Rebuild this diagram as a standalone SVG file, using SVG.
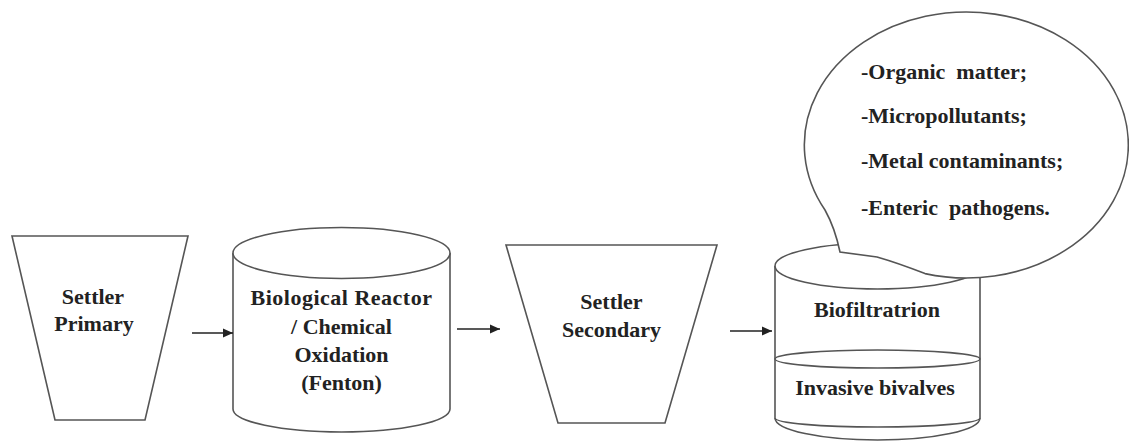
<svg xmlns="http://www.w3.org/2000/svg" width="1129" height="441" viewBox="0 0 1129 441">
<style>
.s{fill:#fff;stroke:#555;stroke-width:1.6}
.l{fill:none;stroke:#555;stroke-width:1.6}
.t{font-family:'Liberation Serif','DejaVu Serif',serif;font-weight:bold;font-size:22px;fill:#222;text-anchor:middle}
.b{font-family:'Liberation Serif','DejaVu Serif',serif;font-weight:bold;font-size:22px;fill:#222}
.c{stroke:#222;stroke-width:1.6;fill:none}
</style>
<defs>
<marker id="ah" viewBox="0 0 10 10" refX="10" refY="5" markerWidth="10" markerHeight="10" markerUnits="userSpaceOnUse" orient="auto">
<path d="M0,0.5 L10,5 L0,9.5 Z" fill="#222"/>
</marker>
</defs>
<rect width="1129" height="441" fill="#fff"/>
<g id="settler-primary">
<polygon class="s" points="12,236 188,236 145,420 55,420"/>
<text class="t" x="93" y="304">Settler</text>
<text class="t" x="94" y="331">Primary</text>
</g>
<g id="bio-reactor">
<path class="s" d="M233,253 L233,409 A108.5,23 0 0 0 450,409 L450,253"/>
<ellipse class="s" cx="341.5" cy="253" rx="108.5" ry="25.5"/>
<text class="t" x="341.5" y="305" letter-spacing="0.5">Biological Reactor</text>
<text class="t" x="341.5" y="334">/ Chemical</text>
<text class="t" x="341.5" y="362">Oxidation</text>
<text class="t" x="341.5" y="390">(Fenton)</text>
</g>
<g id="settler-secondary">
<polygon class="s" points="506,245 717,245 665,423 558,423"/>
<text class="t" x="611.5" y="309">Settler</text>
<text class="t" x="611.5" y="337">Secondary</text>
</g>
<g id="biofiltration">
<path class="s" d="M775,266 L775,418 A102.5,22 0 0 0 980,418 L980,266"/>
<path class="l" d="M775,418 A102.5,9 0 0 0 980,418"/>
<ellipse class="s" cx="877.5" cy="359" rx="102.5" ry="9"/>
<ellipse class="s" cx="877.5" cy="266" rx="102.5" ry="23"/>
<text class="t" x="877" y="317">Biofiltratrion</text>
<text class="t" x="875" y="395">Invasive bivalves</text>
</g>
<g id="callout">
<path class="s" d="M925,273.6 A162,133 0 1 0 825,210 Q835,228 840,252 L877,257 Q898,263 925,273.6 Z"/>
<text class="b" x="861" y="79" xml:space="preserve">-Organic  matter;</text>
<text class="b" x="861" y="123">-Micropollutants;</text>
<text class="b" x="861" y="168">-Metal contaminants;</text>
<text class="b" x="861" y="215" xml:space="preserve">-Enteric  pathogens.</text>
</g>
<g id="connectors">
<line class="c" x1="192" y1="333" x2="233" y2="333" marker-end="url(#ah)"/>
<line class="c" x1="457" y1="329" x2="500" y2="329" marker-end="url(#ah)"/>
<line class="c" x1="730" y1="331" x2="772" y2="331" marker-end="url(#ah)"/>
</g>
</svg>
